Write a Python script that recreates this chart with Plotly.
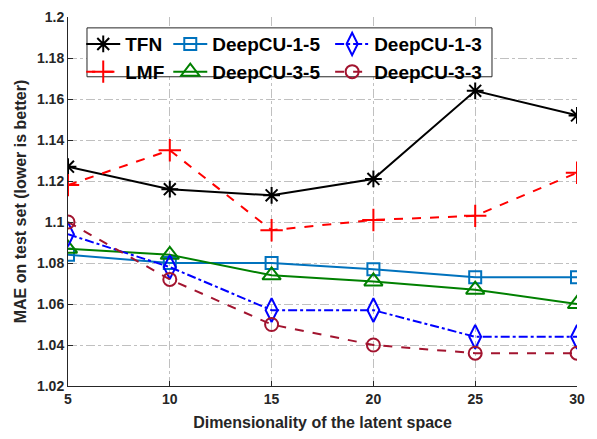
import plotly.graph_objects as go

dims = [5, 10, 15, 20, 25, 30]
tfn = [1.127, 1.116, 1.113, 1.121, 1.164, 1.152]
lmf = [1.118, 1.135, 1.096, 1.101, 1.103, 1.124]
cu15 = [1.084, 1.080, 1.080, 1.077, 1.073, 1.073]
cu35 = [1.087, 1.084, 1.074, 1.071, 1.067, 1.060]
cu13 = [1.094, 1.078, 1.057, 1.057, 1.044, 1.044]
cu33 = [1.100, 1.072, 1.050, 1.040, 1.036, 1.036]

y_ticks = [1.02, 1.04, 1.06, 1.08, 1.1, 1.12, 1.14, 1.16, 1.18, 1.2]
y_tick_text = ["1.02", "1.04", "1.06", "1.08", "1.1", "1.12", "1.14", "1.16", "1.18", "1.2"]

# name, values, colour, dash, symbol, size, legend column
series = [
    ("TFN", tfn, "#000000", "solid", "asterisk-open", 14, "legend"),
    ("LMF", lmf, "#FF0000", "dash", "cross-thin-open", 16, "legend"),
    ("DeepCU-1-5", cu15, "#0072BD", "solid", "square-open", 12, "legend2"),
    ("DeepCU-3-5", cu35, "#008000", "solid", "triangle-up-open", 16, "legend2"),
    ("DeepCU-1-3", cu13, "#0000FF", "dashdot", "diamond-tall-open", 17, "legend3"),
    ("DeepCU-3-3", cu33, "#A2142F", "dash", "circle-open", 13, "legend3"),
]

fig = go.Figure()
for name, vals, col, dash, sym, sz, leg in series:
    fig.add_trace(go.Scatter(
        x=dims, y=vals, name=f"<b>{name}</b>", mode="lines+markers",
        line=dict(color=col, width=2, dash=dash),
        marker=dict(symbol=sym, size=sz, color=col, line=dict(color=col, width=2)),
        legend=leg,
    ))

font_family = "Liberation Sans, Arial, sans-serif"
leg_common = dict(
    orientation="v", yanchor="top", xanchor="left", y=0.978,
    bgcolor="rgba(0,0,0,0)", borderwidth=0,
    font=dict(size=19, color="#000000", family=font_family),
    itemwidth=34, tracegroupgap=0,
)

fig.update_layout(
    width=597, height=439,
    margin=dict(l=60, r=28, t=9, b=61),
    paper_bgcolor="white", plot_bgcolor="white",
    font=dict(family=font_family, size=14, color="#262626"),
    xaxis=dict(
        range=[5, 30], tickvals=dims, ticktext=[f"<b>{d}</b>" for d in dims],
        showgrid=True, gridcolor="#c0c0c0", griddash="dashdot", gridwidth=1,
        showline=True, linecolor="#262626", linewidth=1,
        ticks="inside", ticklen=5, tickcolor="#262626",
        zeroline=False, automargin=False, ticklabeloverflow="allow",
        title=dict(text="<b>Dimensionality of the latent space</b>", font=dict(size=16), standoff=11),
        tickfont=dict(size=14),
    ),
    yaxis=dict(
        range=[1.02, 1.2], tickvals=y_ticks, ticktext=[f"<b>{t}</b>" for t in y_tick_text],
        showgrid=True, gridcolor="#c0c0c0", griddash="dashdot", gridwidth=1,
        showline=True, linecolor="#262626", linewidth=1,
        ticks="inside", ticklen=5, tickcolor="#262626",
        zeroline=False, automargin=False, ticklabeloverflow="allow",
        title=dict(text="<b>MAE on test set (lower is better)</b>", font=dict(size=16), standoff=6),
        tickfont=dict(size=14),
    ),
    legend=dict(x=0.026, **leg_common),
    legend2=dict(x=0.197, **leg_common),
    legend3=dict(x=0.515, **leg_common),
    shapes=[dict(
        type="rect", xref="paper", yref="paper",
        x0=0.0373, x1=0.833, y0=0.838, y1=0.9705,
        fillcolor="white", line=dict(color="#262626", width=1), layer="above",
    )],
)

fig.write_html("out.html")
